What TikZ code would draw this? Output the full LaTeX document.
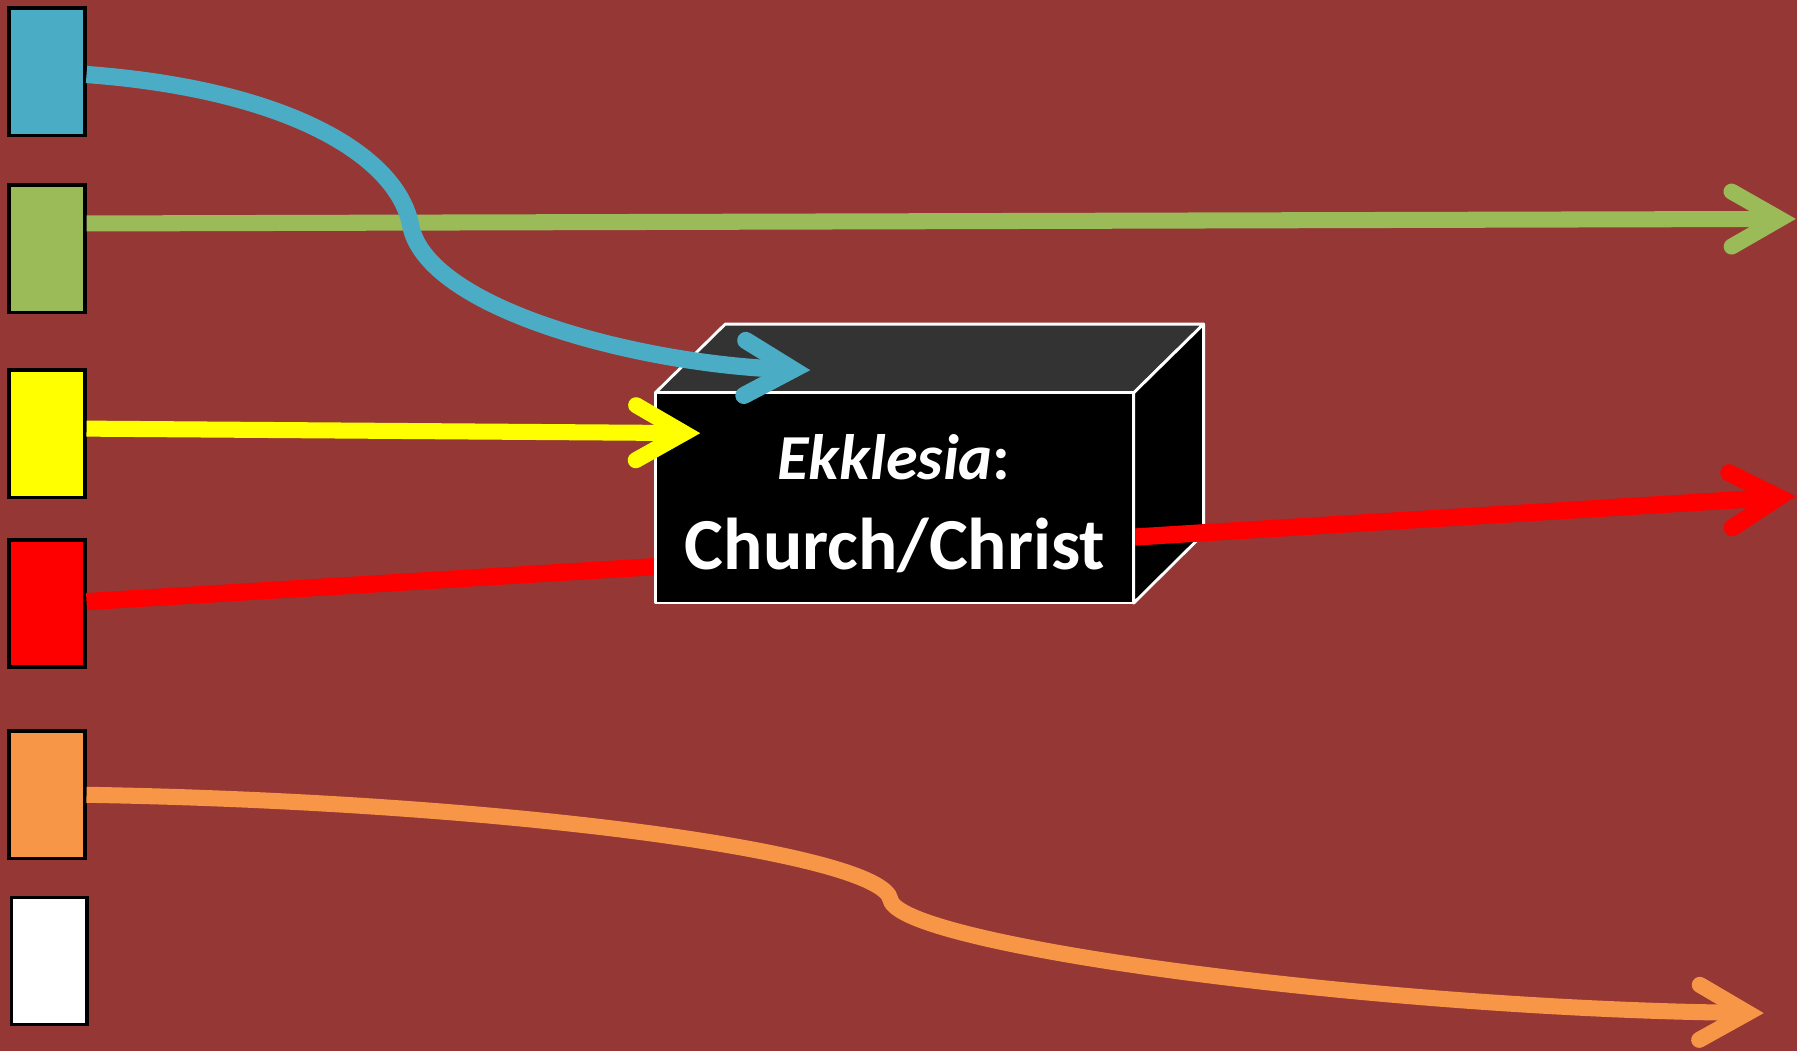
\documentclass[tikz,border=0pt]{standalone}
\usepackage{fontspec}
\setmainfont{Carlito}
\usetikzlibrary{arrows.meta}
\definecolor{bg}{HTML}{953735}
\definecolor{cblue}{HTML}{4BACC6}
\definecolor{cgreen}{HTML}{9BBB59}
\definecolor{cyellow}{HTML}{FFFF00}
\definecolor{cred}{HTML}{FF0000}
\definecolor{corange}{HTML}{F79646}
\definecolor{ctop}{HTML}{333333}
\tikzset{
  sq/.style={draw=black, line width=3pt, minimum width=66pt, minimum height=111pt, inner sep=0pt},
  flow/.style={line width=15pt, line cap=butt, -{Straight Barb[length=42pt, width=48pt, line cap=round, line join=miter]}},
  face/.style={draw=white, line width=2.5pt, line join=round},
  lbl/.style={text=white, font=\bfseries, inner sep=0pt, anchor=base}
}
\begin{document}
\begin{tikzpicture}[x=1pt,y=-1pt]
\fill[bg] (0,0) rectangle (1568,917);
\useasboundingbox (0,0) rectangle (1568,917);
% squares
\node[sq, fill=cblue] (b) at (41,62.5) {};
\node[sq, fill=cgreen] (g) at (41,217) {};
\node[sq, fill=cyellow] (y) at (41,378.5) {};
\node[sq, fill=cred] (r) at (41,526.5) {};
\node[sq, fill=corange] (o) at (41,693.5) {};
\node[sq, fill=white] (w) at (43,838.5) {};
% end points
\coordinate (gt) at (1567,191);
\coordinate (yt) at (611,378);
\coordinate (rt) at (1567,433);
\coordinate (bt) at (707,323);
\coordinate (ot) at (1539,884);
% box front face node
\node[minimum width=417pt, minimum height=183pt, inner sep=0pt] (box) at (780.5,434.5) {};
% top and right faces
\filldraw[face, fill=ctop] (box.north west) -- ++(61,-60) -- ++(417,0) -- ([shift={(61pt,60pt)}]box.north east) -- (box.north east) -- cycle;
\filldraw[face, fill=black] (box.north east) -- ++(61,-60) -- ++(0,183) -- (box.south east) -- cycle;
% green arrow
\draw[flow, cgreen, line width=14pt] ([yshift=22pt]g.east) -- (gt);
% red arrow (behind front face)
\draw[flow, cred] ([yshift=1.5pt]r.east) -- (rt);
% front face
\filldraw[face, fill=black] (box.north west) rectangle (box.south east);
\node[lbl, font=\fontsize{56}{60}\selectfont\bfseries] (t1) at (780,418) {\textit{Ekklesia}:};
\node[lbl, font=\fontsize{64}{70}\selectfont\bfseries] (t2) at (781,497) {Church/Christ};
% blue arrow
\draw[flow, cblue] ([yshift=-2.5pt]b.east) .. controls (250,78) and (345,135) .. (358,195)
   .. controls (370,270) and (560,318) .. (bt);
% yellow arrow
\draw[flow, cyellow, line width=14pt] ([yshift=4.5pt]y.east) -- (yt);
% orange arrow
\draw[flow, corange, line width=14pt] (o.east) .. controls (450,700) and (770,745) .. (777,785)
   .. controls (785,825) and (1200,880) .. (ot);
\end{tikzpicture}
\end{document}
